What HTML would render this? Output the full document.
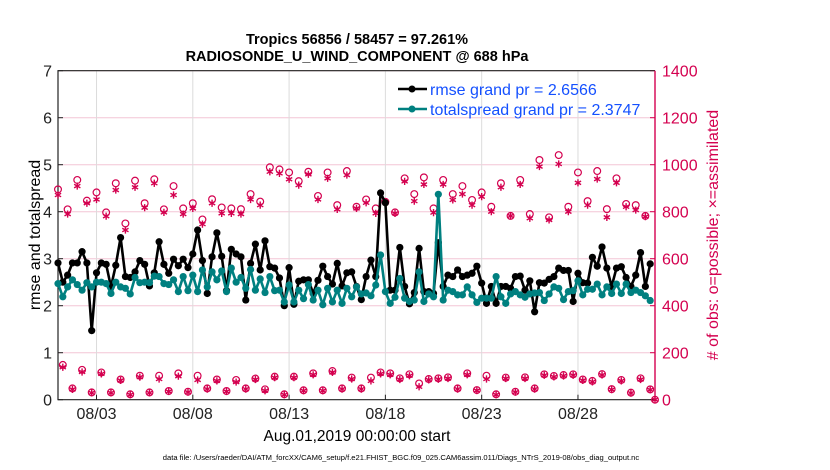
<!DOCTYPE html>
<html><head><meta charset="utf-8"><style>
body{margin:0;background:#fff;}
svg{display:block;font-family:"Liberation Sans",sans-serif;}
</style></head><body>
<svg id="chart" width="830" height="470" viewBox="0 0 830 470" xmlns="http://www.w3.org/2000/svg">
<g id="grid"></g>
<g id="axes"></g>
<g id="obs"></g>
<g id="lines"></g>
<text x="357" y="44" text-anchor="middle" font-size="14.5" font-weight="bold">Tropics 56856 / 58457 = 97.261%</text>
<text x="357" y="61" text-anchor="middle" font-size="14.5" font-weight="bold">RADIOSONDE_U_WIND_COMPONENT @ 688 hPa</text>
<text transform="translate(40,235) rotate(-90)" text-anchor="middle" font-size="16">rmse and totalspread</text>
<text transform="translate(718,235) rotate(-90)" text-anchor="middle" font-size="16" fill="#d4004f"># of obs: o=possible; ×=assimilated</text>
<text x="357" y="441" text-anchor="middle" font-size="15.5">Aug.01,2019 00:00:00 start</text>
<text x="401" y="460" text-anchor="middle" font-size="7.6">data file: /Users/raeder/DAI/ATM_forcXX/CAM6_setup/f.e21.FHIST_BGC.f09_025.CAM6assim.011/Diags_NTrS_2019-08/obs_diag_output.nc</text>
<g>
<line x1="398" y1="89" x2="427" y2="89" stroke="#000" stroke-width="2.5"/><circle cx="412" cy="89" r="3.5" fill="#000"/>
<text x="430" y="95" font-size="16" fill="#1450ff">rmse grand pr = 2.6566</text>
<line x1="398" y1="109" x2="427" y2="109" stroke="#008080" stroke-width="2.5"/><circle cx="412" cy="109" r="3.5" fill="#008080"/>
<text x="430" y="115" font-size="16" fill="#1450ff">totalspread grand pr = 2.3747</text>
</g>
</svg>
<script>
const rmse=[2.91,2.5,2.65,2.91,2.91,3.15,2.91,1.47,2.7,2.91,2.88,2.4,2.86,3.45,2.62,2.6,2.72,2.96,2.88,2.42,2.7,3.36,2.88,2.69,2.99,2.85,2.99,2.81,3.1,3.61,2.96,2.26,3.04,3.55,3.05,2.32,3.2,3.1,3.04,2.12,2.9,3.31,2.76,3.38,2.83,2.8,2.59,2.0,2.81,2.03,2.52,2.55,2.55,2.26,2.54,2.84,2.62,2.46,2.9,2.42,2.7,
2.72,2.41,2.13,2.62,2.97,2.62,4.4,4.19,2.33,2.33,3.24,2.41,2.04,2.28,3.22,2.3,2.3,2.26,3.34,2.41,2.65,2.62,2.76,2.62,2.65,2.69,2.84,2.48,2.05,2.41,2.05,2.41,2.41,2.37,2.62,2.63,2.33,2.53,1.87,2.49,2.48,2.56,2.62,2.8,2.75,2.75,2.09,2.69,2.49,2.48,3.03,2.84,3.25,2.8,2.41,2.8,2.83,2.6,2.41,2.65,3.13,2.41,2.89];
const spread=[2.47,2.19,2.4,2.55,2.45,2.33,2.49,2.4,2.5,2.5,2.47,2.26,2.5,2.4,2.37,2.25,2.6,2.49,2.5,2.49,2.63,2.62,2.47,2.45,2.55,2.3,2.62,2.32,2.65,2.3,2.76,2.4,2.72,2.55,2.74,2.3,2.8,2.5,2.6,2.37,2.77,2.33,2.57,2.28,2.62,2.32,2.33,2.08,2.44,2.08,2.33,2.15,2.45,2.12,2.33,2.02,2.37,2.08,2.33,2.05,2.37,
2.19,2.4,2.25,2.27,2.21,2.44,3.08,2.3,2.05,2.18,2.58,2.16,2.09,2.12,2.72,2.09,2.25,2.19,4.37,2.12,2.33,2.3,2.23,2.23,2.4,2.23,2.07,2.16,2.16,2.16,2.62,2.19,2.05,2.25,2.3,2.23,2.18,2.25,2.27,2.28,2.11,2.25,2.4,2.37,2.13,2.3,2.32,2.53,2.23,2.35,2.35,2.46,2.23,2.4,2.26,2.46,2.26,2.46,2.28,2.33,2.28,2.21,2.11];
const possible=[895,148,810,48,935,127,847,31,882,116,797,31,921,86,750,23,932,102,836,31,938,102,810,37,909,112,814,34,836,102,767,48,853,86,818,37,814,84,811,48,875,90,843,44,989,98,980,23,967,98,930,40,970,112,867,40,967,122,828,48,973,94,821,48,852,94,814,116,842,112,797,91,942,108,875,69,946,88,814,91,935,95,875,48,909,112,850,41,882,102,821,23,921,94,782,34,935,95,790,48,1020,108,776,101,1041,105,821,108,967,86,845,80,973,109,811,45,942,84,833,30,828,91,782,44,0];
const assimilated=[871,138,790,44,909,118,836,29,852,110,781,29,892,82,722,21,904,96,817,29,921,88,797,35,871,100,790,32,814,84,747,45,836,80,793,35,793,75,790,45,852,86,828,38,970,94,963,21,938,94,913,38,959,106,852,38,942,116,810,45,956,88,814,45,838,80,793,110,838,106,793,86,929,102,845,55,916,84,796,87,916,90,850,45,875,106,828,39,864,88,800,21,904,90,782,32,916,90,772,45,992,104,765,97,1003,101,800,104,923,82,828,76,939,105,776,43,923,80,821,28,807,86,779,42,0];
const leftTicks=[0,1,2,3,4,5,6,7];
const rightTicks=[0,200,400,600,800,1000,1200,1400];
const xTickDays=[2,7,12,17,22,27];
const xTickLabels=["08/03","08/08","08/13","08/18","08/23","08/28"];
const stepDays=0.25;

const NS="http://www.w3.org/2000/svg";
const X0=58,X1=655,Y0=399.7,Y1=70.7;
const xS=d=>X0+d*(X1-X0)/31;
const yL=v=>Y0-v*(Y0-Y1)/7;
const yR=v=>Y0-v*(Y0-Y1)/1400;
function mk(tag,attrs,parent){const e=document.createElementNS(NS,tag);for(const k in attrs)e.setAttribute(k,attrs[k]);parent.appendChild(e);return e;}
const grid=document.getElementById('grid'),axes=document.getElementById('axes'),obs=document.getElementById('obs'),lines=document.getElementById('lines');
rightTicks.forEach(t=>{if(t===0)return;const g=mk('line',{x1:X0,x2:X1,y1:yR(t),y2:yR(t),stroke:'#f3c6d6','stroke-width':1},grid);

});
xTickDays.forEach((d,i)=>{const g=mk('line',{x1:xS(d),x2:xS(d),y1:Y1,y2:Y0,stroke:'#dcdcdc','stroke-width':1},grid);


const tk=mk('line',{x1:xS(d),x2:xS(d),y1:Y0,y2:Y0-5,stroke:'#222'},axes);


const t=mk('text',{x:xS(d),y:419,'text-anchor':'middle','font-size':16,fill:'#222'},axes);t.textContent=xTickLabels[i];

});
leftTicks.forEach(v=>{const t=mk('text',{x:52,y:yL(v)+6,'text-anchor':'end','font-size':16,fill:'#222'},axes);t.textContent=v;


const tk=mk('line',{x1:X0,x2:X0+5,y1:yL(v),y2:yL(v),stroke:'#222'},axes);

});
rightTicks.forEach(v=>{const t=mk('text',{x:662,y:yR(v)+6,'font-size':16,fill:'#d4004f'},axes);t.textContent=v;


const tk=mk('line',{x1:X1,x2:X1-5,y1:yR(v),y2:yR(v),stroke:'#d4004f'},axes);

});
const la=mk('path',{d:`M${X1},${Y1}H${X0}V${Y0}H${X1}`,fill:'none',stroke:'#222','stroke-width':1.2},axes);


const ra=mk('line',{x1:X1,x2:X1,y1:Y1,y2:Y0,stroke:'#d4004f','stroke-width':1.4},axes);



function star(cx,cy,r,parent){let d='';for(let k=0;k<3;k++){const a=Math.PI/2+k*Math.PI/3;const dx=r*Math.cos(a),dy=r*Math.sin(a);d+=`M${cx-dx},${cy-dy}L${cx+dx},${cy+dy}`;}
const p=mk('path',{d:d,stroke:'#d4004f','stroke-width':1.4,fill:'none'},parent);

}
possible.forEach((v,i)=>{const c=mk('circle',{cx:xS(i*stepDays),cy:yR(v),r:3.4,fill:'none',stroke:'#d4004f','stroke-width':1.2},obs);

});
assimilated.forEach((v,i)=>star(xS(i*stepDays),yR(v),3.6,obs));

function series(vals,color,name){const pts=vals.map((v,i)=>[xS(i*stepDays),yL(v)]);
const pl=mk('polyline',{points:pts.map(p=>p.join(',')).join(' '),fill:'none',stroke:color,'stroke-width':2.6,'stroke-linejoin':'round'},lines);


pts.forEach(p=>{const c=mk('circle',{cx:p[0],cy:p[1],r:3.6,fill:color},lines);

});}
series(rmse,'#000','rmse');
series(spread,'#008080','totalspread');
</script>
</body></html>
